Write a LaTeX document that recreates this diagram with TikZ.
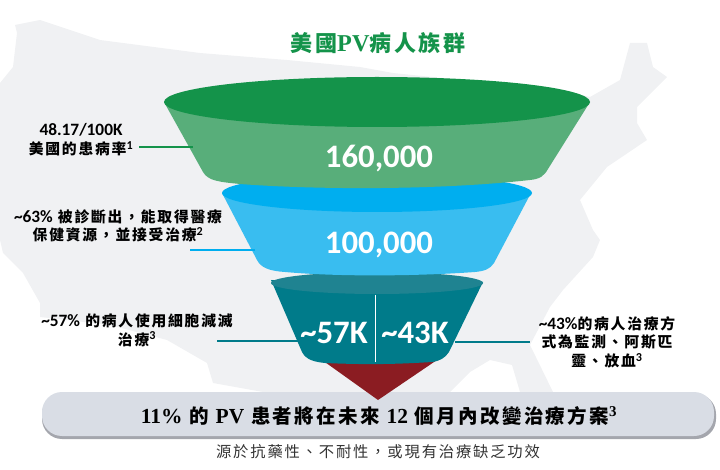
\documentclass[tikz,border=0pt]{standalone}
\usepackage{fontspec}
\setmainfont{Noto Sans CJK TC}[LetterSpace=12]
\newfontfamily\calfont{Carlito}[Scale=1.17]
\newfontfamily\serfont{Liberation Serif}[Scale=1.1]
\newcommand{\widecomma}{^^^^ff0c}
\definecolor{mapgray}{HTML}{F0F1F3}
\definecolor{topgreen}{HTML}{14934A}
\definecolor{bodygreen}{HTML}{58AE7A}
\definecolor{topblue}{HTML}{00AEEF}
\definecolor{bodyblue}{HTML}{39BDF0}
\definecolor{topteal}{HTML}{1F8391}
\definecolor{bodyteal}{HTML}{007B8A}
\definecolor{tipred}{HTML}{8B1C22}
\definecolor{barfill}{HTML}{D9DDE5}
\definecolor{barshade}{HTML}{A4A6AD}
\tikzset{
  numlabel/.style={text=white,font=\calfont\bfseries\fontsize{28}{28}\selectfont,inner sep=0pt},
  sidelabel/.style={align=center,font=\bfseries\fontsize{14.8}{18.7}\selectfont,inner sep=0pt,text=black},
  sideline/.style={line width=1.4pt}
}
\begin{document}
\begin{tikzpicture}[x=1pt,y=-1pt]
\useasboundingbox (0,0) rectangle (720,470);

% map
\fill[mapgray] (15,25)--(40,20)--(100,40)--(200,53)--(287,60)--(360,67)--(393,73)--(560,90)
  --(590,97)--(620,80)--(630,43)--(647,43)--(653,67)--(667,77)--(637,107)--(637,123)--(647,140)
  --(607,167)--(580,200)--(593,230)--(600,240)--(593,257)--(563,290)--(550,307)--(530,345)
  --(553,392)--(520,392)--(512,365)--(490,360)--(470,372)--(450,392)--(263,392)--(213,383)--(207,363)
  --(167,340)--(110,325)--(40,317)--(40,303)--(23,273)--(3,253)--(0,240)--(0,83)--(13,67)--(17,33)--cycle;

% bar
\fill[barshade,rounded corners=20pt] (42,394) rectangle (716,439);
\fill[barfill,rounded corners=20pt] (42,392) rectangle (714,436);

% funnel, lowest first
\fill[tipred] (322,360)--(437,360)--(378,400)--cycle;

\fill[bodyteal] (271,280)--(302,352) .. controls (306,360) and (315,362) .. (325,363)
  .. controls (370,365) and (400,364) .. (432,362) .. controls (440,361) and (445,358) .. (449,352)--(483,282)--cycle;
\fill[topteal] (377,283) ellipse (106 and 11);
\draw[white,line width=0.7pt] (375,295)--(375,362);

\fill[bodyblue] (222,193)--(257,260) .. controls (261,268) and (270,271) .. (285,272)
  .. controls (340,277) and (420,276) .. (475,272) .. controls (485,271) and (490,269) .. (494,263)--(531,193)--cycle;
\fill[topblue] (377,193) ellipse (155 and 19);

\fill[bodygreen] (164,102)--(203,172) .. controls (208,181) and (220,182) .. (240,184)
  .. controls (320,190) and (440,190) .. (530,180) .. controls (540,179) and (544,176) .. (548,169)--(590,102)--cycle;
\fill[topgreen] (377,102) ellipse (213 and 25);

% texts
\node[text=topgreen,inner sep=0pt,font=\bfseries\fontsize{22}{22}\selectfont] (title) at (378,43) {美國{\serfont PV}病人族群};
\node[numlabel] (num160) at (379,159) {160,000};
\node[numlabel] (num100) at (379,245) {100,000};
\node[numlabel] (num57) at (334,333) {\textasciitilde57K};
\node[numlabel] (num43) at (415,333) {\textasciitilde43K};

\node[sidelabel] (rate) at (81,140) {{\calfont 48.17/100K}\\美國的患病率\textsuperscript{\calfont 1}};
\node[sidelabel] (diag) at (118,226) {{\calfont\textasciitilde63\%} 被診斷出\widecomma 能取得醫療\\保健資源\widecomma 並接受治療\textsuperscript{\calfont 2}};
\node[sidelabel] (cyto) at (137,330) {{\calfont\textasciitilde57\%} 的病人使用細胞減滅\\治療\textsuperscript{\calfont 3}};
\node[sidelabel] (watch) at (607,342) {{\calfont\textasciitilde43\%}的病人治療方\\式為監測、阿斯匹\\靈、放血\textsuperscript{\calfont 3}};

\coordinate (ratestart) at (139,147);
\coordinate (rateend) at (193,147);
\coordinate (diagstart) at (190,250);
\coordinate (diagend) at (255,250);
\coordinate (cytostart) at (217,341);
\coordinate (cytoend) at (298,341);
\coordinate (watchstart) at (455,342);
\coordinate (watchend) at (530,342);
\draw[sideline,topgreen] (ratestart)--(rateend);
\draw[sideline,topblue] (diagstart)--(diagend);
\draw[sideline,bodyteal] (cytostart)--(cytoend);
\draw[sideline,bodyteal] (watchstart)--(watchend);

\node[inner sep=0pt,font=\bfseries\fontsize{19.5}{19.5}\selectfont] (change) at (379,416)
  {{\serfont 11\%} 的 {\serfont PV} 患者將在未來 {\serfont 12} 個月內改變治療方案\textsuperscript{\serfont 3}};
\node[inner sep=0pt,text=black!80,font=\fontsize{15.3}{15.3}\selectfont] (cause) at (378,452) {源於抗藥性、不耐性\widecomma 或現有治療缺乏功效};
\end{tikzpicture}
\end{document}
